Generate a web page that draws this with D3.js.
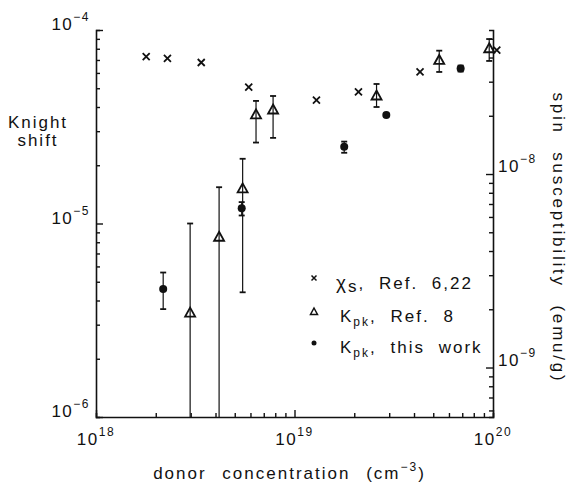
<!DOCTYPE html>
<html>
<head>
<meta charset="utf-8">
<script src="https://cdn.jsdelivr.net/npm/d3@7"></script>
<style>
  body { margin: 0; background: #fff; }
  svg { font-family: "Liberation Sans", Arial, sans-serif; }
  .lbl { font-size: 17px; letter-spacing: 2px; word-spacing: 7px; fill: #111; }
</style>
</head>
<body>
<div id="chart"></div>
<script>
// chi_s, Ref. 6,22 (right axis, emu/g)
let chiConc = [1.79e18, 2.29e18, 3.39e18, 5.88e18, 1.29e19, 2.10e19, 4.29e19, 1.045e20];
let chiVal  = [4.04e-8, 3.96e-8, 3.77e-8, 2.81e-8, 2.41e-8, 2.66e-8, 3.37e-8, 4.37e-8];

// K_pk, Ref. 8 (left axis)
let refConc = [2.98e18, 4.17e18, 5.48e18, 6.40e18, 7.80e18, 2.59e19, 5.36e19, 9.57e19];
let refK    = [3.44e-6, 8.49e-6, 1.51e-5, 3.64e-5, 3.86e-5, 4.56e-5, 6.96e-5, 8.00e-5];
let refHi   = [1.0e-5, 1.54e-5, 2.16e-5, 4.30e-5, 4.56e-5, 5.26e-5, 7.82e-5, 8.98e-5];
let refLo   = [1e-6, 1e-6, 4.41e-6, 2.62e-5, 2.77e-5, 4.00e-5, 6.07e-5, 6.92e-5];

// K_pk, this work
let workConc = [2.18e18, 5.42e18, 1.78e19, 2.90e19, 6.87e19];
let workK    = [4.59e-6, 1.20e-5, 2.49e-5, 3.64e-5, 6.33e-5];
let workHi   = [5.58e-6, 1.29e-5, 2.65e-5, 3.70e-5, 6.55e-5];
let workLo   = [3.61e-6, 1.10e-5, 2.32e-5, 3.58e-5, 6.10e-5];

let xMajor = [18, 19, 20];
let yMajor = [-4, -5, -6];
let rMajor = [-8, -9];

let margin = {top: 30, left: 96, right: 84, bottom: 68};
let width = 577 - margin.left - margin.right;
let height = 485 - margin.top - margin.bottom;

let xScale = d3.scaleLog().domain([1e18, 1e20]).range([0, width]);
let yScale = d3.scaleLog().domain([1e-6, 1e-4]).range([height, 0]);
let rScale = d3.scaleLog().domain([5.55e-10, 5.55e-8]).range([height, 0]);

function minorTicks(lo, hi) {
    let out = [];
    for (let e = lo; e < hi; e++)
        for (let m = 2; m <= 9; m++) out.push(m * Math.pow(10, e));
    return out;
}

let svg = d3.select('#chart').append('svg')
    .attr('width', 577)
    .attr('height', 485);

let g = svg.append('g')
    .attr('transform', `translate(${margin.left},${margin.top})`);

// axes: minor ticks then major ticks, all pointing inwards
function drawAxis(axisFn, scale, minor, major, tr) {
    let a1 = g.append('g').attr('transform', tr)
        .call(axisFn(scale).tickValues(minor).tickSize(-4).tickFormat(''));
    let a2 = g.append('g').attr('transform', tr)
        .call(axisFn(scale).tickValues(major).tickSize(-7).tickFormat(''));
    [a1, a2].forEach(a => {
        a.selectAll('.domain').attr('stroke', '#111').attr('stroke-width', 1.6);
        a.selectAll('line').attr('stroke', '#111').attr('stroke-width', 1.4);
    });
    a2.select('.domain').remove();
}
drawAxis(d3.axisLeft, yScale, minorTicks(-6, -4), yMajor.map(e => Math.pow(10, e)), 'translate(0,0)');
drawAxis(d3.axisBottom, xScale, minorTicks(18, 20), xMajor.map(e => Math.pow(10, e)), `translate(0,${height})`);
drawAxis(d3.axisRight, rScale, minorTicks(-10, -7).filter(v => v > 5.55e-10 && v < 5.55e-8),
    rMajor.map(e => Math.pow(10, e)), `translate(${width},0)`);

// power-of-ten labels
function powLabel(x, y, exp, anchor) {
    let t = g.append('text').attr('class', 'lbl')
        .attr('x', x).attr('y', y)
        .attr('text-anchor', anchor)
        .style('letter-spacing', '1.5px');
    t.append('tspan').text('10');
    t.append('tspan').attr('dy', -9).style('font-size', '12px')
        .text(String(exp).replace('-', '\u2212'));
}
xMajor.forEach(e => powLabel(xScale(Math.pow(10, e)), height + 28, e, 'middle'));
yMajor.forEach(e => powLabel(-6, yScale(Math.pow(10, e)), e, 'end'));
rMajor.forEach(e => powLabel(width + 5, rScale(Math.pow(10, e)) - 2, e, 'start'));

// axis titles
let xt = g.append('text').attr('class', 'lbl')
    .attr('x', width / 2 - 5).attr('y', height + 62)
    .attr('text-anchor', 'middle')
    .style('word-spacing', '9px');
xt.append('tspan').text('donor concentration (cm');
xt.append('tspan').attr('dy', -8).style('font-size', '12px').text('\u22123');
xt.append('tspan').attr('dy', 8).text(')');

let kt = svg.append('text').attr('class', 'lbl').attr('text-anchor', 'middle');
kt.append('tspan').attr('x', 38).attr('y', 128).text('Knight');
kt.append('tspan').attr('x', 38).attr('y', 146).text('shift');

svg.append('text').attr('class', 'lbl')
    .attr('text-anchor', 'middle')
    .attr('transform', 'translate(553,238) rotate(90)')
    .style('letter-spacing', '2.8px')
    .style('word-spacing', '10px')
    .text('spin susceptibility (emu/g)');

// chi_s crosses
let cross = 'M-3.5,-3.5L3.5,3.5M-3.5,3.5L3.5,-3.5';
let tri = 'M0,-5.5L5,3.5L-5,3.5Z';

g.selectAll('path.chi')
    .data(chiConc.map((c, i) => ({c: c, v: chiVal[i]})))
    .enter().append('path')
    .attr('class', 'chi')
    .attr('transform', d => `translate(${xScale(d.c)},${rScale(d.v)})`)
    .attr('d', cross)
    .attr('stroke', '#111').attr('stroke-width', 1.8).attr('fill', 'none');

function errorBars(cls, conc, lo, hi) {
    let data = conc.map((c, i) => ({c: c, lo: lo[i], hi: hi[i]}));
    let eg = g.selectAll('g.' + cls).data(data).enter().append('g').attr('class', cls)
        .attr('stroke', '#111').attr('stroke-width', 1.2);
    eg.append('line')
        .attr('x1', d => xScale(d.c)).attr('x2', d => xScale(d.c))
        .attr('y1', d => yScale(d.lo)).attr('y2', d => yScale(d.hi));
    eg.append('line')
        .attr('x1', d => xScale(d.c) - 3).attr('x2', d => xScale(d.c) + 3)
        .attr('y1', d => yScale(d.hi)).attr('y2', d => yScale(d.hi))
        .attr('stroke-width', 1.8);
    eg.filter(d => d.lo > 1e-6).append('line')
        .attr('x1', d => xScale(d.c) - 3).attr('x2', d => xScale(d.c) + 3)
        .attr('y1', d => yScale(d.lo)).attr('y2', d => yScale(d.lo))
        .attr('stroke-width', 1.8);
}
errorBars('refErr', refConc, refLo, refHi);
errorBars('workErr', workConc, workLo, workHi);

g.selectAll('path.ref')
    .data(refConc.map((c, i) => ({c: c, v: refK[i]})))
    .enter().append('path')
    .attr('class', 'ref')
    .attr('transform', d => `translate(${xScale(d.c)},${yScale(d.v)})`)
    .attr('d', tri)
    .attr('stroke', '#111').attr('stroke-width', 1.8).attr('fill', 'none');

g.selectAll('circle.work')
    .data(workConc.map((c, i) => ({c: c, v: workK[i]})))
    .enter().append('circle')
    .attr('class', 'work')
    .attr('cx', d => xScale(d.c))
    .attr('cy', d => yScale(d.v))
    .attr('r', 4)
    .attr('fill', '#111');

// legend
let legend = svg.append('g');
legend.append('path').attr('transform', 'translate(314,278)')
    .attr('d', 'M-2.5,-2.5L2.5,2.5M-2.5,2.5L2.5,-2.5')
    .attr('stroke', '#111').attr('stroke-width', 1.5);
legend.append('path').attr('transform', 'translate(314,312)')
    .attr('d', 'M0,-4L3.5,2.5L-3.5,2.5Z')
    .attr('stroke', '#111').attr('stroke-width', 1.5).attr('fill', 'none');
legend.append('circle').attr('cx', 314).attr('cy', 343).attr('r', 2.5).attr('fill', '#111');

let l1 = legend.append('text').attr('class', 'lbl').attr('x', 336).attr('y', 289);
l1.append('tspan').style('font-size', '19px').text('\u03c7');
l1.append('tspan').attr('dy', 3).text('s');
l1.append('tspan').attr('dy', -3).text(', Ref. 6,22');

let l2 = legend.append('text').attr('class', 'lbl').attr('x', 340).attr('y', 322);
l2.append('tspan').text('K');
l2.append('tspan').attr('dy', 4).style('font-size', '12px').text('pk');
l2.append('tspan').attr('dy', -4).text(', Ref. 8');

let l3 = legend.append('text').attr('class', 'lbl').attr('x', 340).attr('y', 353);
l3.append('tspan').text('K');
l3.append('tspan').attr('dy', 4).style('font-size', '12px').text('pk');
l3.append('tspan').attr('dy', -4).text(', this work');
</script>
</body>
</html>
